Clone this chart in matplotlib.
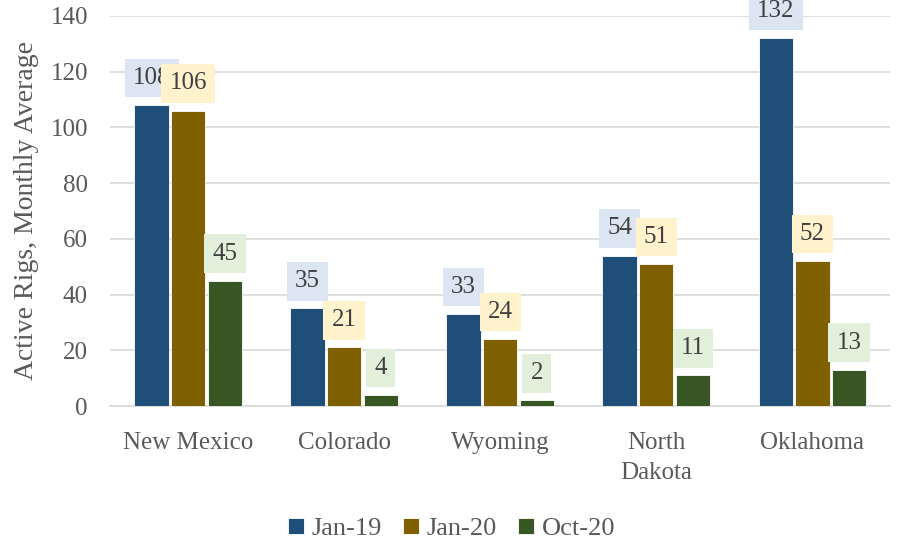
import matplotlib
matplotlib.use("Agg")
import matplotlib.pyplot as plt
import numpy as np

states = ["New Mexico", "Colorado", "Wyoming", "North\nDakota", "Oklahoma"]
series_names = ["Jan-19", "Jan-20", "Oct-20"]
jan19 = [108, 35, 33, 54, 132]
jan20 = [106, 21, 24, 51, 52]
oct20 = [45, 4, 2, 11, 13]
yticks = [0, 20, 40, 60, 80, 100, 120, 140]

bar_colors = ["#1F4E79", "#7F6000", "#375623"]
label_fills = ["#DCE6F2", "#FFF2CC", "#E2EFDA"]
text_color = "#595959"

plt.rcParams["font.family"] = ["Liberation Serif", "DejaVu Serif"]

fig = plt.figure(figsize=(9.03, 5.45), dpi=100)
ax = fig.add_axes([0.122, 0.255, 0.864, 0.716])

x = np.arange(len(states))
width = 0.22
step = 0.235
for i, (vals, name) in enumerate(zip([jan19, jan20, oct20], series_names)):
    pos = x + (i - 1) * step
    ax.bar(pos, vals, width, color=bar_colors[i], edgecolor="white",
           linewidth=0.6, label=name, zorder=3)
    for px, v in zip(pos, vals):
        ax.annotate(str(v), xy=(px, v), xytext=(0, 19.5), textcoords="offset points",
                    ha="center", va="center", fontsize=18, color="#404040",
                    annotation_clip=False, zorder=5,
                    bbox=dict(boxstyle="square,pad=0.33", fc=label_fills[i], ec="none"))

ax.set_xlim(-0.5, 4.5)
ax.set_ylim(0, 140)
ax.set_yticks(yticks)
ax.set_xticks(x)
ax.set_xticklabels(states, linespacing=1.45)
ax.grid(axis="y", color="#D9D9D9", linewidth=1.2, zorder=0)
for s in ["top", "right", "left"]:
    ax.spines[s].set_visible(False)
ax.spines["bottom"].set_color("#D9D9D9")
ax.spines["bottom"].set_linewidth(1.2)
ax.tick_params(axis="both", length=0, labelsize=18, colors=text_color)
ax.tick_params(axis="x", pad=19)
ax.tick_params(axis="y", pad=16)
ax.set_ylabel("Active Rigs, Monthly Average", fontsize=20, color=text_color, labelpad=8)

leg = fig.legend(loc="lower center", bbox_to_anchor=(0.5, -0.035), ncol=3, frameon=False,
                 fontsize=19, handlelength=0.6, handleheight=0.6, handletextpad=0.3,
                 columnspacing=0.8)
for t in leg.get_texts():
    t.set_color(text_color)

fig.savefig("out.png", dpi=100)
